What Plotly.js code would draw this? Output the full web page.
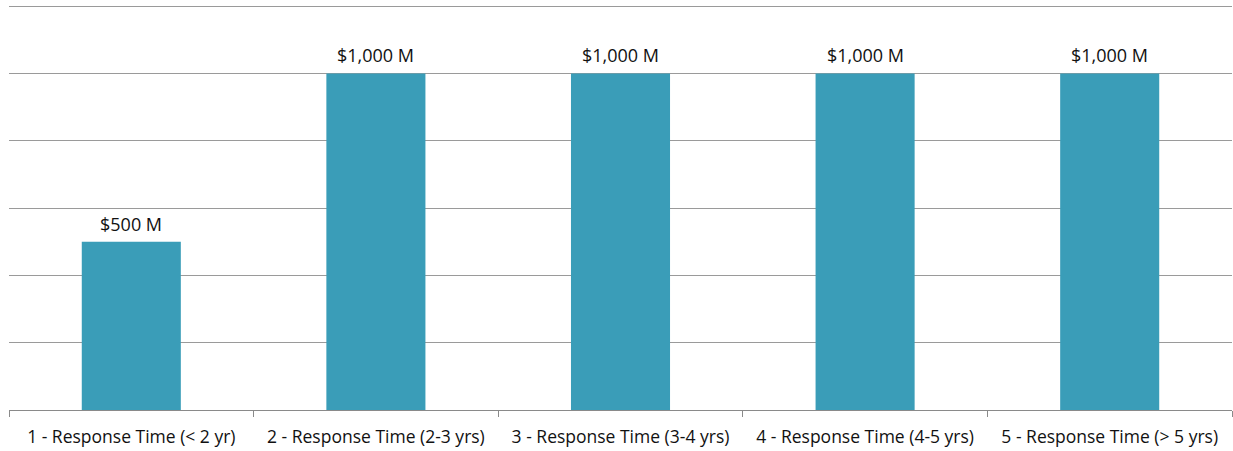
<!DOCTYPE html>
<html>
<head>
<meta charset="utf-8">
<script src="https://cdn.plot.ly/plotly-3.0.1.min.js"></script>
<style>
  html, body { margin: 0; padding: 0; background: #fff; }
  #chart { width: 1233px; height: 451px; }
</style>
</head>
<body>
<div id="chart"></div>
<script>
// Funding by response-time bucket, in millions of dollars
const categories = [
  '1 - Response Time (< 2 yr)',
  '2 - Response Time (2-3 yrs)',
  '3 - Response Time (3-4 yrs)',
  '4 - Response Time (4-5 yrs)',
  '5 - Response Time (> 5 yrs)'
];
const valuesMillions = [500, 1000, 1000, 1000, 1000];

const labels = valuesMillions.map(v => '$' + v.toLocaleString('en-US') + ' M');

const fontFamily = '"Open Sans", Lato, sans-serif';

const trace = {
  type: 'bar',
  x: categories,
  y: valuesMillions,
  marker: { color: '#3A9DB8' },
  width: 0.405,
  hoverinfo: 'x+y'
};

// Value labels sit just above each bar top
const valueLabels = categories.map((c, i) => ({
  x: c,
  y: valuesMillions[i],
  xref: 'x',
  yref: 'y',
  text: labels[i],
  showarrow: false,
  yanchor: 'bottom',
  yshift: 4,
  font: { family: fontFamily, size: 18, color: '#111' }
}));

const layout = {
  width: 1233,
  height: 451,
  margin: { l: 9, r: 1, t: 0, b: 41 },
  paper_bgcolor: '#fff',
  plot_bgcolor: '#fff',
  showlegend: false,
  font: { family: fontFamily, size: 17, color: '#111' },
  annotations: valueLabels,
  xaxis: {
    type: 'category',
    showline: true,
    linecolor: '#8a8a8a',
    linewidth: 1,
    ticks: 'outside',
    tickson: 'boundaries',
    ticklen: 6,
    tickcolor: '#8a8a8a',
    tickfont: { family: fontFamily, size: 17.5, color: '#111' },
    ticklabelstandoff: 11,
    showgrid: false,
    fixedrange: true
  },
  yaxis: {
    range: [0, 1218],
    tickvals: [200, 400, 600, 800, 1000, 1200],
    showticklabels: false,
    showgrid: true,
    gridcolor: '#9a9a9a',
    gridwidth: 1,
    zeroline: false,
    showline: false,
    ticks: '',
    fixedrange: true
  }
};

Plotly.newPlot('chart', [trace], layout, { displayModeBar: false, staticPlot: true });
</script>
</body>
</html>
